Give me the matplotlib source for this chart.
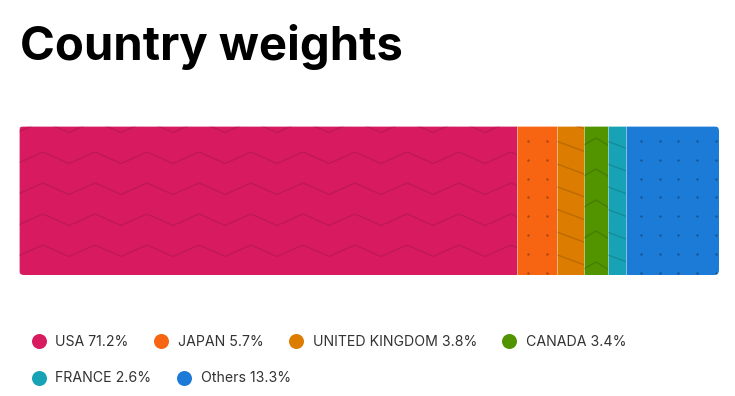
import numpy as np
import matplotlib
matplotlib.use("Agg")
import matplotlib.pyplot as plt
from matplotlib.patches import FancyBboxPatch

# ---- data ----
countries = ["USA", "JAPAN", "UNITED KINGDOM", "CANADA", "FRANCE", "Others"]
weights = [71.2, 5.7, 3.8, 3.4, 2.6, 13.3]
colors = ["#D81B60", "#F76412", "#DC7C00", "#529300", "#17A3B5", "#1D7BD8"]
patterns = ["zigzag", "dots", "diag", "chevron", "diag", "dots"]
title = "Country weights"

W, H = 735, 396
plt.rcParams['font.family'] = ['Inter', 'DejaVu Sans']
fig = plt.figure(figsize=(W / 100, H / 100), dpi=100)

# bar axes (pixel box: x 19..719, y 126..275)
bx0, bx1, by0, by1 = 19, 719, 126, 275
ax = fig.add_axes([bx0 / W, 1 - by1 / H, (bx1 - bx0) / W, (by1 - by0) / H])
ax.set_xlim(0, sum(weights))
ax.set_ylim(-0.5, 0.5)
ax.axis("off")

# rounded clip for whole bar
clip = FancyBboxPatch((0, 0), 1, 1, boxstyle="round,pad=0,rounding_size=%f" % (5 / (bx1 - bx0)),
                      mutation_aspect=(bx1 - bx0) / (by1 - by0),
                      transform=ax.transAxes, facecolor="none", edgecolor="none")
ax.add_patch(clip)

lefts = np.concatenate([[0], np.cumsum(weights)[:-1]])
bars = ax.barh([0] * len(weights), weights, left=lefts, height=1.0, color=colors,
               edgecolor=(1, 1, 1, 0.25), linewidth=0.7)
for b in bars:
    b.set_clip_path(clip)

# overlay pixel axes
ov = fig.add_axes([0, 0, 1, 1])
ov.set_xlim(0, W)
ov.set_ylim(H, 0)
ov.axis("off")

def to_px(xd):
    return ax.transData.transform([(xd, 0)])[0][0]

pcol = (0, 0, 0, 0.11)
for b, pat, l, w in zip(bars, patterns, lefts, weights):
    x0 = to_px(l)
    x1 = to_px(l + w)
    arts = []
    if pat == "zigzag":
        wl, amp, sp = 52, 11.5, 31
        xs = np.arange(bx0 + 24 - wl, x1 + wl, wl / 2)
        for yb in np.arange(by0 - 5, by1 + sp, sp):
            ys = [yb + (0 if i % 2 == 0 else amp) for i in range(len(xs))]
            arts += ov.plot(xs, ys, color=pcol, lw=1.0)
    elif pat == "dots":
        sp = 18.8
        xs = np.arange(bx0 + 1.4, bx1, sp)
        xs = xs[(xs > x0 + 2) & (xs < x1 - 1)]
        ys = np.arange(by0 + 15, by1, sp)
        gx, gy = np.meshgrid(xs, ys)
        arts.append(ov.scatter(gx.ravel(), gy.ravel(), s=3, color=(0, 0, 0, 0.3), linewidths=0))
    elif pat == "diag":
        sp, slope = 22.7, 0.37
        for yb in np.arange(by0 - 30, by1 + 30, sp):
            arts += ov.plot([x0, x1], [yb, yb + slope * (x1 - x0)], color=(0, 0, 0, 0.14), lw=1.0)
    elif pat == "chevron":
        sp, amp = 31, 7
        xm = (x0 + x1) / 2
        for yb in np.arange(by0 + 12, by1 + sp, sp):
            arts += ov.plot([x0, xm, x1], [yb + amp, yb, yb + amp], color=(0, 0, 0, 0.14), lw=1.0)
    for a in arts:
        a.set_clip_path(b)

# title
fig.text(20 / W, 1 - 60 / H, title, fontsize=34, fontweight="bold", color="#000000",
         ha="left", va="baseline")

# legend (flow layout)
fig.canvas.draw()
renderer = fig.canvas.get_renderer()
x, yrow = 32, 341
row_h = 37
for name, w, c in zip(countries, weights, colors):
    label = f"{name} {w}%"
    t = ov.text(0, 0, label, fontsize=10.2, color="#333333", va="center", ha="left")
    tw = t.get_window_extent(renderer).width
    item_w = 14 + 9 + tw
    if x + item_w > bx1:
        x = 32
        yrow += row_h
    ov.scatter([x + 7], [yrow], s=(15 * 0.72) ** 2, color=c, linewidths=0)
    t.set_position((x + 23.5, yrow + 0.5))
    x += item_w + 26

fig.savefig("out.png", dpi=100)
